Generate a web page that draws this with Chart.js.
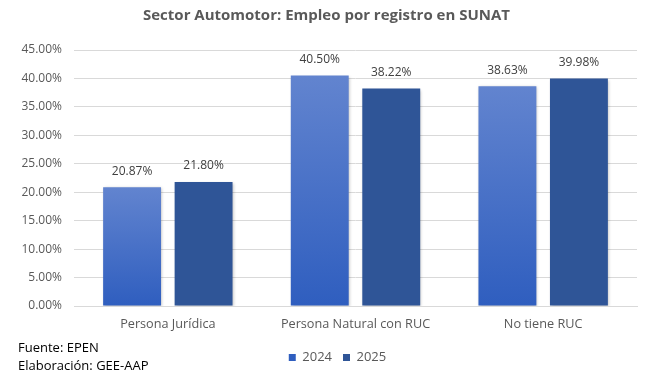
<!DOCTYPE html>
<html>
<head>
<meta charset="utf-8">
<script src="https://cdn.jsdelivr.net/npm/chart.js@4"></script>
<style>
  html, body { margin: 0; padding: 0; background: #fff; }
  #wrap { width: 645px; height: 371px; position: relative; }
</style>
</head>
<body>
<div id="wrap"><canvas id="chart"></canvas></div>
<script>
// Empleo del sector automotor según registro en SUNAT
const categories = ['Persona Jurídica', 'Persona Natural con RUC', 'No tiene RUC'];
const values2024 = [20.87, 40.50, 38.63];
const values2025 = [21.80, 38.22, 39.98];
const yTicks = [0, 5, 10, 15, 20, 25, 30, 35, 40, 45];
const footerLines = ['Fuente: EPEN', 'Elaboración: GEE-AAP'];

const FONT = '"Open Sans", sans-serif';
const GREY = '#595959';

// vertical gradient per bar, lighter at the top
function gradient2024(ctx) {
  const chart = ctx.chart;
  if (ctx.type !== 'data' || !chart.chartArea) return '#4472c4';
  const y = chart.scales.y;
  const top = y.getPixelForValue(ctx.raw);
  const base = y.getPixelForValue(0);
  const g = chart.ctx.createLinearGradient(0, top, 0, base);
  g.addColorStop(0, '#6284cf');
  g.addColorStop(1, '#2f5ebf');
  return g;
}

// value labels above each bar
const barLabels = {
  id: 'barLabels',
  afterDatasetsDraw(chart) {
    const c = chart.ctx;
    c.save();
    c.font = '12px ' + FONT;
    c.fillStyle = '#404040';
    c.textAlign = 'center';
    c.textBaseline = 'middle';
    chart.data.datasets.forEach((ds, i) => {
      chart.getDatasetMeta(i).data.forEach((bar, j) => {
        c.fillText(ds.data[j].toFixed(2) + '%', bar.x, bar.y - 16);
      });
    });
    c.restore();
  }
};

// soft shadow under the bars
const barShadow = {
  id: 'barShadow',
  beforeDatasetsDraw(chart) {
    const c = chart.ctx;
    c.save();
    c.shadowColor = 'rgba(0,0,0,0.25)';
    c.shadowBlur = 3;
    c.shadowOffsetX = 1;
    c.shadowOffsetY = 1;
  },
  afterDatasetsDraw(chart) {
    chart.ctx.restore();
  }
};

// source notes in the bottom-left corner
const footer = {
  id: 'footer',
  afterDraw(chart) {
    const c = chart.ctx;
    c.save();
    c.font = '13px ' + FONT;
    c.fillStyle = '#000';
    c.textAlign = 'left';
    c.textBaseline = 'middle';
    footerLines.forEach((t, i) => c.fillText(t, 18, 348 + i * 18));
    c.restore();
  }
};

// move title and legend so they sit centred over the plot
const boxShift = {
  id: 'boxShift',
  afterLayout(chart) {
    if (chart.titleBlock) {
      chart.titleBlock.left += 8;
      chart.titleBlock.right += 8;
    }
    if (chart.legend) {
      chart.legend.left += 19;
      chart.legend.right += 19;
      chart.legend.top += 3;
      chart.legend.bottom += 3;
    }
  }
};

new Chart(document.getElementById('chart'), {
  type: 'bar',
  data: {
    labels: categories,
    datasets: [
      { label: '2024', data: values2024, backgroundColor: gradient2024 },
      { label: '2025', data: values2025, backgroundColor: '#2f5597' }
    ]
  },
  options: {
    responsive: true,
    maintainAspectRatio: false,
    animation: false,
    categoryPercentage: 0.762,
    barPercentage: 0.81,
    layout: { padding: { top: 0, right: 8, bottom: 0, left: 0 } },
    plugins: {
      title: {
        display: true,
        text: 'Sector Automotor: Empleo por registro en SUNAT',
        color: GREY,
        font: { family: FONT, size: 15, weight: 'bold' },
        padding: { top: 7, bottom: 25 }
      },
      legend: {
        position: 'bottom',
        labels: {
          color: GREY,
          font: { family: FONT, size: 13 },
          boxWidth: 7,
          boxHeight: 7,
          padding: 11
        }
      },
      tooltip: { enabled: false }
    },
    scales: {
      x: {
        grid: { display: false },
        border: { color: '#d9d9d9' },
        ticks: { color: GREY, font: { family: FONT, size: 12.7 }, padding: 3 },
        afterFit: (s) => { s.height = 31; }
      },
      y: {
        min: 0,
        max: 45,
        afterBuildTicks: (s) => { s.ticks = yTicks.map(v => ({ value: v })); },
        grid: { color: '#d9d9d9', drawTicks: false },
        border: { display: false },
        ticks: {
          color: GREY,
          font: { family: FONT, size: 12 },
          padding: 12,
          callback: (v) => v.toFixed(2) + '%'
        },
        afterFit: (s) => { s.width = 74; }
      }
    }
  },
  plugins: [barShadow, barLabels, footer, boxShift]
});
</script>
</body>
</html>
